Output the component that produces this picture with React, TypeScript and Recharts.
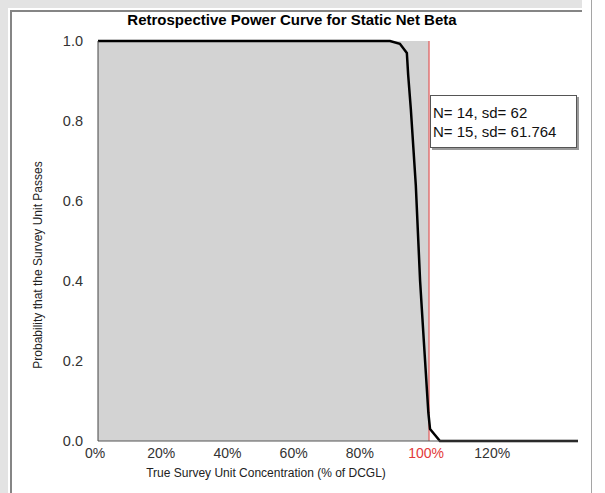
import { ComposedChart, Line, ReferenceArea, ReferenceLine, XAxis, YAxis, Label } from 'recharts';

// true concentration as % of DCGL, and the probability the unit passes
const concentration = [0, 88.2, 91.2, 93.3, 93.7, 94.5, 96.0, 97.3, 98.5, 99.8, 100.3, 103.3, 145];
const passProbability = [1, 1, 0.993, 0.97, 0.915, 0.83, 0.64, 0.4, 0.24, 0.07, 0.03, 0, 0];
const xTicks = [0, 20, 40, 60, 80, 100, 120];
const yTicks = [0, 0.2, 0.4, 0.6, 0.8, 1];
const legendLines = ['N= 14, sd= 62', 'N= 15, sd= 61.764'];
const dcgl = 100;

const data = concentration.map((pct, i) => ({ pct, p: passProbability[i] }));
const font = '"Liberation Sans", Arial, sans-serif';

function XTick(props: any) {
  const { x, y, payload } = props;
  return (
    <text x={x - 3} y={y} dy="0.71em" textAnchor="middle" fontSize={14} fontFamily={font}
      fill={payload.value === dcgl ? '#e23a3a' : '#333'}>
      {payload.value}%
    </text>
  );
}

export default function App() {
  return (
    <div style={{ position: 'absolute', left: 0, top: 0, width: 605, height: 493, background: '#fff', overflow: 'hidden' }}>
      <div style={{ position: 'absolute', left: 0, top: 0, width: 8, height: 493, background: '#e3e3e3' }} />
      <div style={{ position: 'absolute', left: 0, top: 0, width: 582, height: 8, background: '#e3e3e3' }} />
      <div style={{ position: 'absolute', left: 10, top: 10, width: 570, height: 490, borderLeft: '2px solid #858585', borderTop: '2px solid #858585' }} />
      <div style={{ position: 'absolute', left: 591, top: 0, width: 1, height: 493, background: '#a5a5a5' }} />

      <div style={{ position: 'absolute', left: 0, top: 11, width: 584, textAlign: 'center', fontFamily: font, fontWeight: 'bold', fontSize: 15, color: '#000' }}>
        Retrospective Power Curve for Static Net Beta
      </div>

      <div style={{ position: 'absolute', left: 0, top: 0 }}>
        <ComposedChart width={605} height={493} data={data} margin={{ top: 41, right: 27, bottom: 12, left: 0 }}>
          <ReferenceArea x1={0} x2={dcgl} y1={0} y2={1} fill="#d3d3d3" fillOpacity={1} stroke="none" ifOverflow="visible" />
          <ReferenceLine x={dcgl} stroke="#e23a3a" strokeWidth={1} />
          <XAxis dataKey="pct" type="number" domain={[0, 145]} ticks={xTicks} allowDataOverflow
            height={40} tickSize={0} tickMargin={7} tick={<XTick />} stroke="#555">
            <Label value="True Survey Unit Concentration (% of DCGL)" position="insideBottom" offset={4} dx={-72}
              fontSize={12} fontFamily={font} fill="#222" />
          </XAxis>
          <YAxis type="number" domain={[0, 1]} ticks={yTicks} width={98} tickSize={0} tickMargin={15}
            tickFormatter={(v: number) => v.toFixed(1)} stroke="#444"
            tick={{ fontSize: 14.5, fontFamily: font, fill: '#333' }}>
            <Label value="Probability that the Survey Unit Passes" angle={-90} position="center" dx={-11} dy={24}
              fontSize={12} fontFamily={font} fill="#222" />
          </YAxis>
          <Line type="linear" dataKey="p" stroke="#000" strokeWidth={2.5} dot={false} isAnimationActive={false} />
        </ComposedChart>
      </div>

      <div style={{ position: 'absolute', left: 430, top: 95, width: 147, height: 53, border: '1px solid #555',
        boxShadow: '2px 2px 0 #9a9a9a', background: '#fff', fontFamily: font, fontSize: 15, lineHeight: '19px',
        color: '#111', padding: '7px 0 0 2px', boxSizing: 'border-box' }}>
        {legendLines.map((t) => <div key={t}>{t}</div>)}
      </div>
    </div>
  );
}
